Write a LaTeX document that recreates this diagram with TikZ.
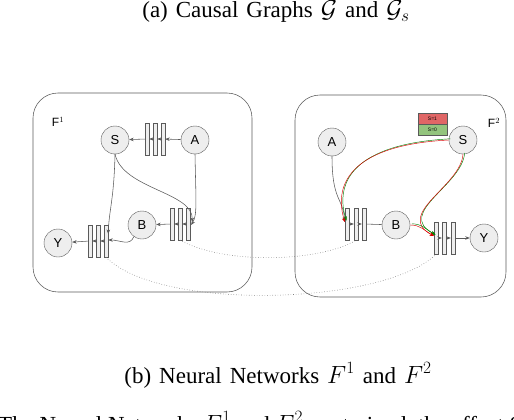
\documentclass[tikz,border=0pt]{standalone}
\usepackage{fontspec}
\setmainfont{Liberation Serif}
\setsansfont{Liberation Sans}
\usepackage{amsmath,amssymb}
\usetikzlibrary{arrows.meta}
\definecolor{nodegray}{HTML}{EEEEEE}
\definecolor{linegray}{HTML}{5A5A5A}
\definecolor{redbox}{HTML}{E06666}
\definecolor{greenbox}{HTML}{93C47D}
\newcommand{\capfont}{\fontsize{23}{27}\selectfont\spaceskip 8pt plus 2pt\relax}

\tikzset{
  var/.style={circle, draw=linegray, fill=nodegray, minimum size=28pt, inner sep=0pt,
    font=\sffamily\fontsize{13}{15}\selectfont},
  layer/.style={rectangle, draw=linegray, fill=nodegray, minimum width=4pt,
    minimum height=32pt, inner sep=0pt},
  edge/.style={draw=linegray, line width=0.55pt, -{Stealth[length=4.5pt,width=3.5pt]}},
  sone/.style={edge, draw=red!85!black, line width=0.45pt,
    -{Stealth[length=4pt,width=3.5pt,red!85!black]}},
  szero/.style={edge, draw=green!50!black, line width=0.45pt,
    transform canvas={shift={(1.6pt,1.2pt)}}},
  link/.style={draw=gray, dotted, line width=0.6pt},
  frame/.style={draw=linegray, line width=0.55pt, rounded corners=25pt},
  sbox/.style={rectangle, draw=linegray, minimum width=29pt, minimum height=11pt,
    inner sep=0pt, font=\sffamily\fontsize{5}{5}\selectfont},
  flabel/.style={font=\sffamily\fontsize{12}{14}\selectfont},
  caption/.style={font=\capfont, anchor=base, inner sep=0pt}
}

\begin{document}
\begin{tikzpicture}[x=1pt, y=-1pt]
		\useasboundingbox (0,0) rectangle (514,420);
		% 标题
		\node[caption] (capa) at (276,17.5) {(a)\ Causal Graphs $\mathcal{G}$ and $\mathcal{G}_s$};
		\node[caption] (capb) at (278,383) {(b)\ Neural Networks $F^1$ and $F^2$};
		\node[font=\fontsize{23}{27}\selectfont, anchor=base west, inner sep=0pt] (capc) at (-2,432)
			{The Neural Networks $F^1$ and $F^2$ are trained, the effect S is in};
		% 两个网络的外框
		\draw[frame] (33,93) rectangle (252,292);
		\draw[frame] (295,95) rectangle (506,297);
		\node[flabel] (f1) at (58,122) {F$^1$};
		\node[flabel] (f2) at (494,123) {F$^2$};
		% 网络 F^1 的变量
		\node[var] (S1) at (115,140) {S};
		\node[var] (A1) at (195,140) {A};
		\node[var] (B1) at (142,225) {B};
		\node[var] (Y1) at (58,243) {Y};
		% 网络 F^1 的层
		\foreach \i/\x in {1/147,2/155,3/163}
			\node[layer] (sa\i) at (\x,139) {};
		\foreach \i/\x in {1/172,2/180,3/188}
			\node[layer] (bb\i) at (\x,224) {};
		\foreach \i/\x in {1/90,2/98,3/106}
			\node[layer] (yy\i) at (\x,241) {};
		% 网络 F^2 的变量
		\node[var] (A2) at (332,142) {A};
		\node[var] (S2) at (463,140) {S};
		\node[var] (B2) at (396,225) {B};
		\node[var] (Y2) at (484,238) {Y};
		% 网络 F^2 的层
		\foreach \i/\x in {1/347,2/356,3/364}
			\node[layer] (pp\i) at (\x,224) {};
		\foreach \i/\x in {1/436,2/444,3/453}
			\node[layer] (qq\i) at (\x,238) {};
		% S 的取值
		\node[sbox, fill=redbox] (sv1) at (432.5,118.5) {S=1};
		\node[sbox, fill=greenbox, anchor=north] (sv0) at (sv1.south) {S=0};
		% F^1 中的连线
		\draw[edge] (A1) -- (sa3);
		\draw[edge] (sa3) -- (sa2);
		\draw[edge] (sa2) -- (sa1);
		\draw[edge] (sa1) -- (S1);
		\draw[edge] (bb3) -- (bb2);
		\draw[edge] (bb2) -- (bb1);
		\draw[edge] (bb1) -- (B1);
		\draw[edge] (yy3) -- (yy2);
		\draw[edge] (yy2) -- (yy1);
		\draw[edge] (yy1) -- (Y1);
		\draw[edge] (S1.south) .. controls +(-1,45) and +(1,-25) .. ([yshift=7pt]yy3.east);
		\draw[edge] (S1.south) .. controls +(8,35) and +(1,-30) .. ([xshift=2pt,yshift=2pt]bb3.east);
		\draw[edge] (A1.south) .. controls +(1,50) and +(6,-10) .. ([xshift=1pt,yshift=-1pt]bb3.east);
		\draw[edge] (B1.235) .. controls +(-4,10) and +(12,0) .. ([yshift=1pt]yy3.east);
		% F^2 中的连线
		\draw[edge] (A2.south) .. controls +(0,45) and +(-2,-25) .. ([yshift=2pt]pp1.west);
		\draw[edge] (pp1) -- (pp2);
		\draw[edge] (pp2) -- (pp3);
		\draw[draw=linegray, line width=0.55pt] (pp3) -- (B2);
		\draw[edge] (qq1) -- (qq2);
		\draw[edge] (qq2) -- (qq3);
		\draw[edge, line width=0.8pt] (qq3) -- (Y2);
		% S 的干预（红色和绿色）
		\draw[szero] (S2.west) .. controls +(-95,5) and +(-12,-40) .. ([yshift=2pt]pp1.west);
		\draw[sone] (S2.west) .. controls +(-95,5) and +(-12,-40) .. ([yshift=2pt]pp1.west);
		\draw[szero] (S2.south) .. controls +(-2,32) and +(-40,-22) .. ([yshift=2pt]qq1.west);
		\draw[sone] (S2.south) .. controls +(-2,32) and +(-40,-22) .. ([yshift=2pt]qq1.west);
		\draw[szero] (B2.east) .. controls +(10,0) and +(-10,-6) .. ([yshift=2pt]qq1.west);
		\draw[sone] (B2.east) .. controls +(10,0) and +(-10,-6) .. ([yshift=2pt]qq1.west);
		% 两个网络之间的对应层
		\draw[link] (bb2.south) .. controls (225,265) and (320,262) .. (pp2.south);
		\draw[link] (yy3.south) .. controls (160,312) and (385,305) .. (qq1.south);
	\end{tikzpicture}
\end{document}
